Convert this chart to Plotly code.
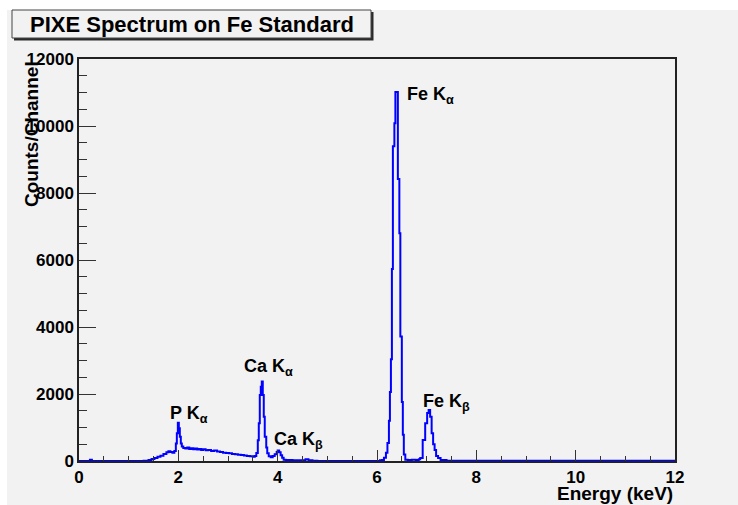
import plotly.graph_objects as go

# ---- data ----
energy_keV = [0.00, 0.22, 0.26, 1.30, 1.40, 1.46, 1.52, 1.58, 1.64, 1.70, 1.76, 1.80, 1.84, 1.88,
              1.92, 1.95, 1.97, 1.99, 2.01, 2.03, 2.05, 2.07, 2.10, 2.14, 2.18, 2.22, 2.26, 2.30,
              2.34, 2.38, 2.42, 2.46, 2.50, 2.55, 2.60, 2.66, 2.72, 2.78, 2.84, 2.90, 2.96, 3.02,
              3.08, 3.14, 3.20, 3.26, 3.32, 3.38, 3.44, 3.50, 3.54, 3.57, 3.60, 3.62, 3.64, 3.66,
              3.68, 3.70, 3.72, 3.74, 3.77, 3.79, 3.82, 3.86, 3.90, 3.94, 3.98, 4.00, 4.03, 4.06,
              4.09, 4.12, 4.16, 4.30, 4.45, 4.56, 4.62, 4.70, 4.80,
              6.06, 6.10, 6.14, 6.18, 6.21, 6.24, 6.26, 6.28, 6.30, 6.32, 6.35, 6.37, 6.42, 6.45,
              6.47, 6.50, 6.52, 6.54, 6.57, 6.62, 6.70, 6.78, 6.84, 6.87, 6.92, 6.97, 7.01, 7.04,
              7.07, 7.10, 7.13, 7.16, 7.19, 7.23, 7.28, 7.40, 12.00]
counts = [0, 40, 0, 10, 30, 60, 90, 130, 160, 210, 260, 290, 270, 250,
          300, 520, 830, 1145, 980, 725, 520, 430, 390, 370, 400, 360, 380, 350,
          370, 340, 360, 330, 350, 320, 330, 300, 310, 280, 270, 250, 240, 230,
          210, 200, 190, 180, 165, 150, 140, 130, 150, 240, 620, 1130, 1970, 2220,
          2370, 1970, 1320, 725, 400, 230, 140, 110, 150, 200, 270, 310, 260, 170,
          100, 40, 30, 20, 25, 50, 25, 10, 0,
          20, 30, 100, 250, 540, 1200, 2056, 3035, 5728, 9399, 10084, 11015, 8420, 6800,
          3720, 1762, 783, 196, 40, 30, 40, 30, 50, 90, 630, 1130, 1430, 1520,
          1320, 830, 500, 330, 150, 90, 30, 10, 0, 0]

peak_labels = ["P K<sub>α</sub>", "Ca K<sub>α</sub>", "Ca K<sub>β</sub>", "Fe K<sub>α</sub>", "Fe K<sub>β</sub>"]
label_energy = [1.80, 3.29, 3.89, 6.56, 6.88]
label_counts = [1400, 2780, 620, 10900, 1750]

x_ticks = [0, 2, 4, 6, 8, 10, 12]
y_ticks = [0, 2000, 4000, 6000, 8000, 10000, 12000]

title_text = "PIXE Spectrum on Fe Standard"
x_title = "Energy (keV)"
y_title = "Counts/Channel"

# ---- layout geometry (page pixels; body margin removed by post_script) ----
W, H = 738, 505
L, R, T, B = 79, 675, 59, 461
BG = "#f2f2f2"
FONT = "Liberation Sans, Arial, Helvetica, sans-serif"


def px2paper_x(px):
    return (px - L) / (R - L)


def px2paper_y(py):
    return (B - py) / (B - T)


fig = go.Figure()
fig.add_trace(go.Scatter(
    x=energy_keV, y=counts, mode="lines", line=dict(color="#0000ff", width=2, shape="hv"),
    hoverinfo="x+y", showlegend=False,
))

shapes = []
# white strips above and left of the grey canvas
shapes.append(dict(type="rect", xref="paper", yref="paper",
                   x0=px2paper_x(0), x1=px2paper_x(W), y0=px2paper_y(10), y1=px2paper_y(0),
                   fillcolor="white", line=dict(width=0), layer="above"))
shapes.append(dict(type="rect", xref="paper", yref="paper",
                   x0=px2paper_x(0), x1=px2paper_x(7), y0=px2paper_y(H), y1=px2paper_y(0),
                   fillcolor="white", line=dict(width=0), layer="above"))
# title box shadow and box
shapes.append(dict(type="rect", xref="paper", yref="paper",
                   x0=px2paper_x(14), x1=px2paper_x(373.5), y0=px2paper_y(40.5), y1=px2paper_y(12),
                   fillcolor="#2a2a2a", line=dict(width=0), layer="above"))
shapes.append(dict(type="rect", xref="paper", yref="paper",
                   x0=px2paper_x(12), x1=px2paper_x(371), y0=px2paper_y(38), y1=px2paper_y(10),
                   fillcolor=BG, line=dict(color="#444444", width=1), layer="above"))

annotations = []
annotations.append(dict(text="<b>" + title_text + "</b>", xref="paper", yref="paper",
                        x=px2paper_x(192), y=px2paper_y(24), xanchor="center", yanchor="middle",
                        showarrow=False, font=dict(family=FONT, size=22, color="black")))
annotations.append(dict(text="<b>" + x_title + "</b>", xref="paper", yref="paper",
                        x=1.0, y=px2paper_y(494), xanchor="right", yanchor="middle",
                        showarrow=False, font=dict(family=FONT, size=19, color="black")))
annotations.append(dict(text="<b>" + y_title + "</b>", xref="paper", yref="paper",
                        x=px2paper_x(31), y=1.0, xanchor="center", yanchor="top", textangle=-90,
                        showarrow=False, font=dict(family=FONT, size=19, color="black")))
for txt, ex, cy in zip(peak_labels, label_energy, label_counts):
    annotations.append(dict(text="<b>" + txt + "</b>", xref="x", yref="y", x=ex, y=cy,
                            xanchor="left", yanchor="middle", showarrow=False,
                            font=dict(family=FONT, size=18, color="black")))

fig.update_layout(
    width=W, height=H, autosize=False,
    margin=dict(l=L, r=W - R, t=T, b=H - B, pad=0),
    paper_bgcolor=BG, plot_bgcolor=BG,
    shapes=shapes, annotations=annotations,
    xaxis=dict(range=[0, 12], tickvals=x_ticks, ticktext=[str(v) for v in x_ticks],
               ticks="inside", ticklen=11, tickwidth=1, tickcolor="#333333",
               minor=dict(dtick=0.5, tick0=0, ticks="inside", ticklen=5, tickcolor="#333333", showgrid=False),
               showgrid=False, zeroline=False, showline=True, linecolor="#222222", linewidth=1.5,
               mirror=True, tickfont=dict(family=FONT, size=17, color="black", weight="bold")),
    yaxis=dict(range=[0, 12000], tickvals=y_ticks, ticktext=[str(v) for v in y_ticks],
               ticks="inside", ticklen=17, tickwidth=1, tickcolor="#333333",
               minor=dict(dtick=500, tick0=0, ticks="inside", ticklen=8, tickcolor="#333333", showgrid=False),
               showgrid=False, zeroline=False, showline=True, linecolor="#222222", linewidth=1.5,
               mirror=True, tickfont=dict(family=FONT, size=17, color="black", weight="bold")),
)

fig.write_html(
    "out.html",
    config={"displayModeBar": False},
    post_script=("document.documentElement.style.margin='0';document.body.style.margin='0';"
                 "document.documentElement.style.overflow='hidden';document.body.style.overflow='hidden';"),
)
